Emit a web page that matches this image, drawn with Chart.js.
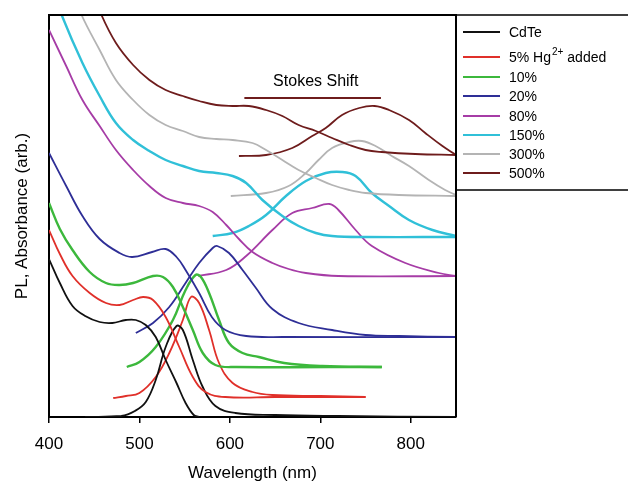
<!DOCTYPE html>
<html>
<head>
<meta charset="utf-8">
<script src="https://cdn.jsdelivr.net/npm/chart.js@4.4.1/dist/chart.umd.min.js"></script>
<style>
  html, body { margin: 0; padding: 0; background: #fff; }
</style>
</head>
<body>
<canvas id="chart" width="628" height="482"></canvas>
<script>
// Axis ticks (nm)
const xTicks = [400, 500, 600, 700, 800];

// Legend names and colours
const seriesNames = ['CdTe', '5% Hg', '10%', '20%', '80%', '150%', '300%', '500%'];
const seriesColors = ['#111111', '#e0302a', '#3cb83c', '#2e2e96', '#a63ca6', '#30c0d8', '#b4b4b4', '#6e1c1c'];

// Absorbance curves: [wavelength, signal (arb., offset)]
const absCdTe = [[400,158],[412,134],[426,111],[440,101],[456,95],[470,94],[485,97],[496,97],[507,92],[518,80],[529,57],[541,34],[551,14],[560,2],[566,0]];
const abs5 = [[400,187],[412,163],[426,141],[445,124],[463,114],[478,112],[493,117],[504,120],[515,117],[529,100],[544,70],[559,40],[573,25],[595,20],[650,20],[750,20]];
const abs10 = [[400,214],[412,188],[426,167],[445,145],[463,134],[478,132],[493,134],[515,141],[526,140],[537,130],[548,110],[559,87],[570,64],[584,52],[607,50],[768,50]];
const abs20 = [[400,264],[419,231],[437,201],[456,178],[478,164],[492,160],[514,165],[529,168],[541,160],[551,147],[566,124],[580,100],[595,87],[618,81],[660,80],[850,80]];
const abs80 = [[400,387],[419,351],[437,317],[456,291],[474,267],[493,247],[511,231],[529,219],[548,214],[566,211],[581,205],[596,192],[610,178],[625,165],[647,154],[665,148],[684,144],[720,141],[850,141]];
const abs150 = [[410,415],[414,402],[437,354],[456,321],[474,294],[493,277],[511,266],[529,257],[548,251],[566,246],[585,244],[603,241],[618,234],[636,217],[658,201],[676,191],[695,184],[713,181],[750,180],[850,180]];
const abs300 = [[432,415],[436,402],[456,367],[474,337],[493,317],[511,302],[529,292],[548,286],[566,280],[585,278],[603,277],[625,274],[640,267],[658,257],[676,247],[695,239],[713,232],[732,227],[750,224],[787,222],[850,221]];
const abs500 = [[454,415],[458,402],[474,374],[493,352],[511,337],[529,327],[548,321],[566,316],[585,312],[603,311],[621,311],[640,307],[658,301],[676,292],[695,286],[713,279],[732,272],[750,267],[768,265],[805,263],[850,262]];

// Photoluminescence curves
const plCdTe = [[440,0],[480,1],[495,6],[507,15],[518,37],[529,70],[541,91],[548,87],[559,57],[570,30],[584,11],[606,4],[650,2],[720,1],[850,0]];
const pl5 = [[471,19],[485,21],[500,24],[518,40],[533,64],[548,97],[557,120],[566,114],[577,87],[588,54],[603,34],[625,25],[647,22],[700,21],[750,20]];
const pl10 = [[486,50],[500,55],[518,70],[537,97],[551,127],[562,142],[568,140],[577,124],[588,97],[599,74],[614,64],[632,60],[660,54],[702,51],[768,50]];
const pl20 = [[496,84],[515,94],[533,110],[551,134],[566,154],[581,169],[586,171],[599,164],[614,147],[628,130],[647,108],[676,94],[713,87],[750,82],[787,81],[850,80]];
const pl80 = [[565,141],[596,147],[618,161],[647,187],[669,204],[691,209],[710,213],[720,207],[739,187],[757,171],[794,154],[831,144],[850,141]];
const pl150 = [[581,181],[603,184],[621,191],[640,202],[662,221],[684,236],[706,244],[724,245],[739,241],[757,224],[776,211],[798,197],[824,187],[850,181]];
const pl300 = [[601,221],[640,224],[665,231],[684,244],[698,257],[713,269],[732,275],[746,276],[761,271],[779,261],[798,251],[820,237],[838,227],[850,222]];
const pl500 = [[610,261],[640,262],[669,269],[691,281],[706,289],[724,302],[743,309],[760,311],[776,307],[798,297],[816,284],[835,271],[850,262]];

// Stokes shift bar
const stokesLine = [[616,319],[767,319]];

const absSets = [absCdTe, abs5, abs10, abs20, abs80, abs150, abs300, abs500];
const plSets = [plCdTe, pl5, pl10, pl20, pl80, pl150, pl300, pl500];

function toPoints(arr) {
  return arr.map(([x, y]) => ({ x, y }));
}

function curve(arr, color, width) {
  return {
    data: toPoints(arr),
    borderColor: color,
    borderWidth: width,
    pointRadius: 0,
    fill: false,
    tension: 0.4
  };
}

const datasets = [];
absSets.forEach((arr, i) => datasets.push(curve(arr, seriesColors[i], i === 2 || i === 5 ? 2.4 : 1.8)));
plSets.forEach((arr, i) => datasets.push(curve(arr, seriesColors[i], i === 2 || i === 5 ? 2.4 : 1.8)));
datasets.push(Object.assign(curve(stokesLine, seriesColors[7], 2), { tension: 0 }));

// Frame, legend box and "Stokes Shift" label
const extrasPlugin = {
  id: 'extras',
  afterDraw(chart) {
    const { ctx, chartArea, scales } = chart;
    ctx.save();
    ctx.strokeStyle = '#000';
    ctx.lineWidth = 2;
    ctx.beginPath();
    ctx.moveTo(chartArea.left, chartArea.top);
    ctx.lineTo(chartArea.right, chartArea.top);
    ctx.lineTo(chartArea.right, chartArea.bottom);
    ctx.stroke();

    // legend box
    const boxTop = chartArea.top;
    const boxBottom = 190;
    ctx.lineWidth = 1.5;
    ctx.strokeRect(chartArea.right, boxTop, 200, boxBottom - boxTop);

    const rows = [32, 57, 77, 96, 116, 135, 154, 173];
    ctx.textBaseline = 'middle';
    ctx.textAlign = 'left';
    rows.forEach((y, i) => {
      ctx.strokeStyle = seriesColors[i];
      ctx.lineWidth = 2;
      ctx.beginPath();
      ctx.moveTo(463, y);
      ctx.lineTo(500, y);
      ctx.stroke();
      ctx.fillStyle = '#000';
      ctx.font = '14px Arial, "Liberation Sans", sans-serif';
      ctx.fillText(seriesNames[i], 509, y + 1);
      if (i === 1) {
        let x = 509 + ctx.measureText(seriesNames[i]).width;
        ctx.font = '10px Arial, "Liberation Sans", sans-serif';
        ctx.fillText('2+', x + 1, y - 5);
        x += ctx.measureText('2+').width + 1;
        ctx.font = '14px Arial, "Liberation Sans", sans-serif';
        ctx.fillText(' added', x, y + 1);
      }
    });

    // Stokes shift label
    ctx.fillStyle = '#000';
    ctx.font = '16px Arial, "Liberation Sans", sans-serif';
    ctx.textAlign = 'center';
    ctx.textBaseline = 'alphabetic';
    ctx.fillText('Stokes Shift', scales.x.getPixelForValue(695), scales.y.getPixelForValue(331));
    ctx.restore();
  }
};

new Chart(document.getElementById('chart'), {
  type: 'line',
  data: { datasets },
  options: {
    responsive: false,
    animation: false,
    devicePixelRatio: 1,
    layout: { padding: { top: 15, right: 172, left: 0, bottom: 0 } },
    plugins: {
      legend: { display: false },
      tooltip: { enabled: false }
    },
    scales: {
      x: {
        type: 'linear',
        min: 400,
        max: 850,
        afterBuildTicks: (scale) => { scale.ticks = xTicks.map(v => ({ value: v })); },
        afterFit: (scale) => { scale.height = 65; },
        ticks: {
          color: '#000',
          font: { family: 'Arial, "Liberation Sans", sans-serif', size: 17 },
          padding: 11,
          maxRotation: 0
        },
        grid: {
          drawOnChartArea: false,
          drawTicks: true,
          tickLength: 6,
          color: '#000',
          lineWidth: 1.5
        },
        border: { display: true, color: '#000', width: 2 },
        title: {
          display: true,
          text: 'Wavelength (nm)',
          color: '#000',
          font: { family: 'Arial, "Liberation Sans", sans-serif', size: 17 },
          padding: { top: 0, bottom: -2 }
        }
      },
      y: {
        min: 0,
        max: 402,
        afterFit: (scale) => { scale.width = 49; },
        ticks: { display: false },
        grid: { drawOnChartArea: false, drawTicks: false },
        border: { display: true, color: '#000', width: 2 },
        title: {
          display: true,
          text: 'PL, Absorbance (arb.)',
          color: '#000',
          font: { family: 'Arial, "Liberation Sans", sans-serif', size: 17 },
          padding: { top: 12, bottom: 0 }
        }
      }
    }
  },
  plugins: [extrasPlugin]
});
</script>
</body>
</html>
